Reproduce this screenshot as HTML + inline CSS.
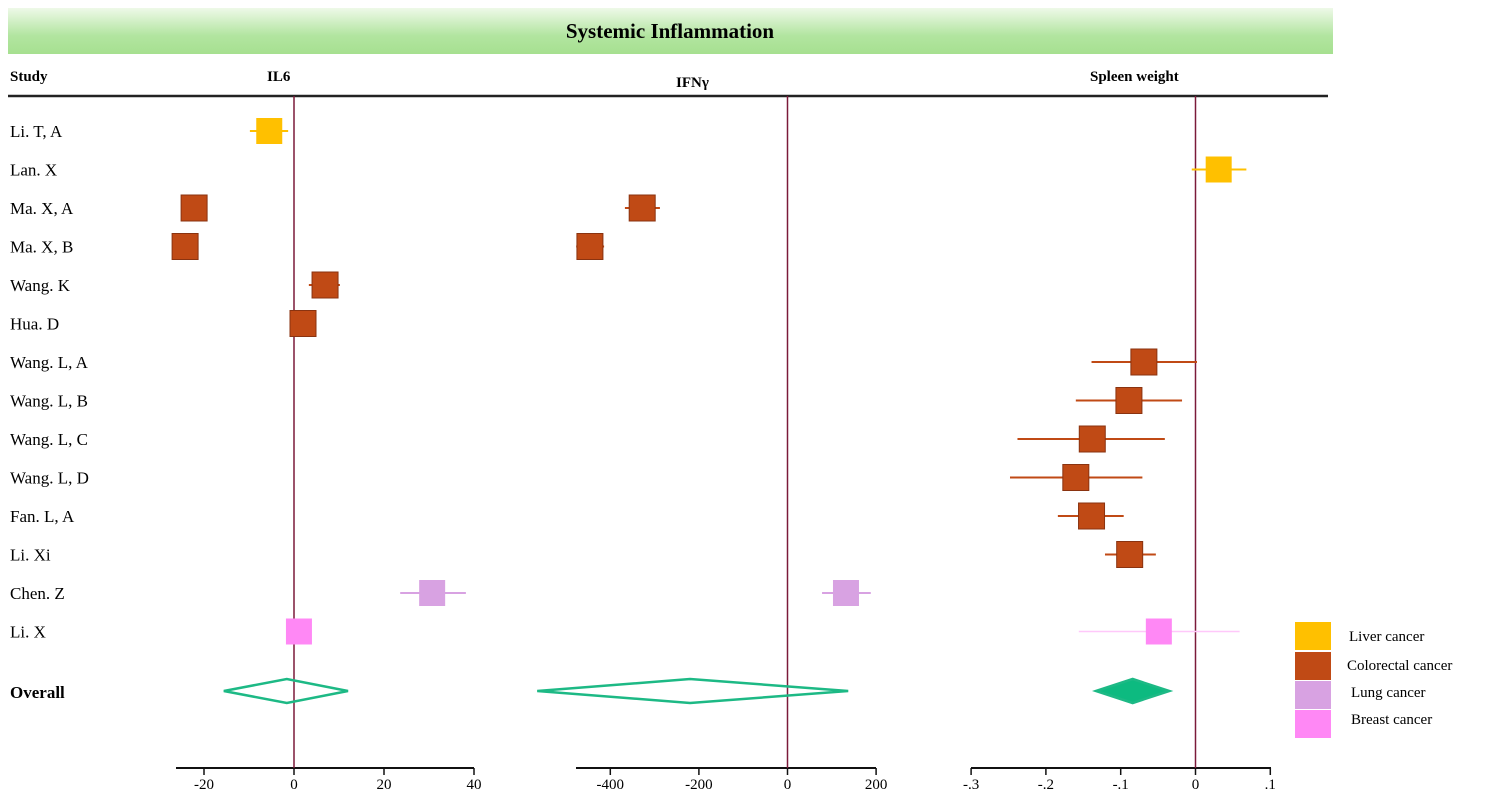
<!DOCTYPE html>
<html><head><meta charset="utf-8"><style>
body{margin:0;background:#fff;}
svg{display:block;font-family:"Liberation Serif",serif;}
</style></head><body>
<svg id="chart" width="1489" height="806" viewBox="0 0 1489 806">
<defs><linearGradient id="hg" x1="0" y1="0" x2="0" y2="1"><stop offset="0" stop-color="#eef9e8"/><stop offset="0.6" stop-color="#b2e5a0"/><stop offset="1" stop-color="#a6e090"/></linearGradient></defs>
<rect x="8" y="8" width="1325" height="46" fill="url(#hg)"/>
<text x="670" y="38" text-anchor="middle" font-size="21" font-weight="bold">Systemic Inflammation</text>
<text x="10" y="81" font-size="15" font-weight="bold">Study</text>
<text x="267" y="81" font-size="15" font-weight="bold">IL6</text>
<text x="676" y="87" font-size="15" font-weight="bold">IFNγ</text>
<text x="1090" y="81" font-size="15" font-weight="bold">Spleen weight</text>
<line x1="8" y1="96" x2="1328" y2="96" stroke="#222" stroke-width="2.5"/>
<g id="plots"></g>
<g>
<rect x="1295" y="622" width="36" height="28" fill="#FFC000"/>
<text x="1349" y="641" font-size="15">Liver cancer</text>
<rect x="1295" y="652" width="36" height="28" fill="#C04A15"/>
<text x="1347" y="670" font-size="15">Colorectal cancer</text>
<rect x="1295" y="681" width="36" height="28" fill="#D8A2E2"/>
<text x="1351" y="697" font-size="15">Lung cancer</text>
<rect x="1295" y="710" width="36" height="28" fill="#FF88F5"/>
<text x="1351" y="724" font-size="15">Breast cancer</text>
</g>
</svg>
<script>
const studies=["Li. T, A","Lan. X","Ma. X, A","Ma. X, B","Wang. K","Hua. D","Wang. L, A","Wang. L, B","Wang. L, C","Wang. L, D","Fan. L, A","Li. Xi","Chen. Z","Li. X"];
const cancerType=["liver","liver","colorectal","colorectal","colorectal","colorectal","colorectal","colorectal","colorectal","colorectal","colorectal","colorectal","lung","breast"];
const il6Est=[-5.5,null,-22.2,-24.2,6.9,2,null,null,null,null,null,null,30.7,1.1];
const il6Lo=[-9.8,null,-24.8,-26.8,3.3,-0.4,null,null,null,null,null,null,23.6,-1.3];
const il6Hi=[-1.3,null,-19.5,-21.5,10.2,4.4,null,null,null,null,null,null,38.2,3.8];
const il6Overall=[-15.6,-1.6,12];
const ifnEst=[null,null,-328,-446,null,null,null,null,null,null,null,null,132,null];
const ifnLo=[null,null,-367,-477,null,null,null,null,null,null,null,null,78,null];
const ifnHi=[null,null,-288,-414,null,null,null,null,null,null,null,null,188,null];
const ifnOverall=[-565,-220,137];
const spEst=[null,0.031,null,null,null,null,-0.069,-0.089,-0.138,-0.160,-0.139,-0.088,null,-0.049];
const spLo=[null,-0.005,null,null,null,null,-0.139,-0.160,-0.238,-0.248,-0.184,-0.121,null,-0.156];
const spHi=[null,0.068,null,null,null,null,0.002,-0.018,-0.041,-0.071,-0.096,-0.053,null,0.059];
const spOverall=[-0.133,-0.084,-0.035];
const il6Ticks=[-20,0,20,40];
const ifnTicks=[-400,-200,0,200];
const spTicks=[-0.3,-0.2,-0.1,0,0.1];
const spTickLabels=["-.3","-.2","-.1","0",".1"];

const NS="http://www.w3.org/2000/svg";
const g=document.getElementById('plots');
const colors={liver:"#FFC000",colorectal:"#C04A15",lung:"#D8A2E2",breast:"#FF88F5"};
const rowY=i=>131+i*38.5;
const overallY=691, axisY=768;
function mk(tag,attrs,parent){const e=document.createElementNS(NS,tag);for(const k in attrs)e.setAttribute(k,attrs[k]);(parent||g).appendChild(e);return e;}
studies.forEach((s,i)=>{
 const t=mk('text',{x:10,y:rowY(i)+6,'font-size':17});t.textContent=s;
 
 
});
const ot=mk('text',{x:10,y:overallY+7,'font-size':17,'font-weight':'bold'});ot.textContent="Overall";



function panel(name,x0,pxPerUnit,axStart,axEnd,ticks,labels,est,lo,hi,ov,filled){
 const sx=v=>x0+v*pxPerUnit;
 const ax=mk('line',{x1:axStart,y1:axisY,x2:axEnd,y2:axisY,stroke:'#111','stroke-width':2});
 
 
 ticks.forEach((v,k)=>{
  mk('line',{x1:sx(v),y1:axisY,x2:sx(v),y2:axisY+7,stroke:'#111','stroke-width':1.5});
  const t=mk('text',{x:sx(v),y:axisY+21,'font-size':15,'text-anchor':'middle'});t.textContent=labels[k];
  
  
 });
 const rl=mk('line',{x1:sx(0),y1:96,x2:sx(0),y2:axisY,stroke:'#7B1A3A','stroke-width':1.5});
 
 
 est.forEach((v,i)=>{
  if(v===null)return;
  const c=colors[cancerType[i]],y=rowY(i);
  const br=cancerType[i]==='breast';
  const l=mk('line',{x1:sx(lo[i]),y1:y,x2:sx(hi[i]),y2:y,stroke:br?'#FFC8FA':c,'stroke-width':br?1.5:2});
  
  
  const sz=26;
  const r=mk('rect',{x:sx(v)-sz/2,y:y-sz/2,width:sz,height:sz,fill:c,stroke:cancerType[i]==='colorectal'?'#8a3310':'none','stroke-width':1});
  
  
 });
 const a=sx(ov[0]),m=sx(ov[1]),b=sx(ov[2]);
 const d=mk('polygon',{points:`${a},${overallY} ${m},${overallY-12} ${b},${overallY} ${m},${overallY+12}`,fill:filled?'#0DBA80':'none',stroke:'#1DB985','stroke-width':2.5});
 
 
}
panel('il6',294,4.5,176,474,il6Ticks,il6Ticks.map(String),il6Est,il6Lo,il6Hi,il6Overall,false);
panel('ifng',787.5,0.443,576,876,ifnTicks,ifnTicks.map(String),ifnEst,ifnLo,ifnHi,ifnOverall,false);
panel('spleen',1195.5,748,971,1271,spTicks,spTickLabels,spEst,spLo,spHi,spOverall,true);
</script>
</body></html>
